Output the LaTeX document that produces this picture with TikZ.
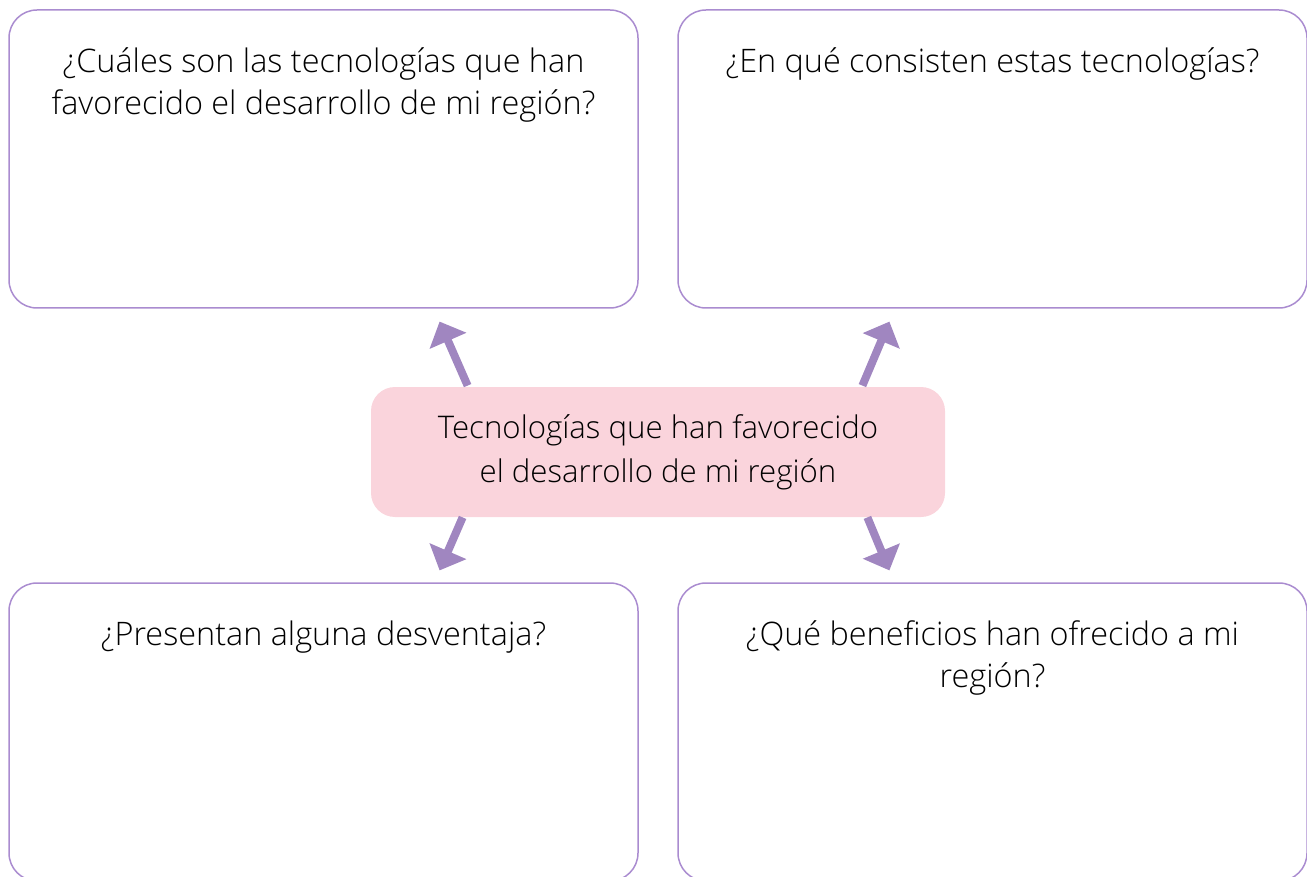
\documentclass[tikz,border=0pt]{standalone}
\usepackage{fontspec}
\setmainfont{Open Sans}[UprightFont=* Light]
\usetikzlibrary{arrows.meta,positioning}
\definecolor{lila}{HTML}{AA8CD0}
\definecolor{flecha}{HTML}{A086C0}
\definecolor{rosa}{HTML}{FAD4DC}

\begin{document}
\begin{tikzpicture}[x=0.5pt,y=-0.5pt,
    every node/.style={font=\fontsize{16.2}{21}\selectfont},
    caja/.style={draw=lila,line width=.75pt,rounded corners=14pt,minimum width=314.5pt,minimum height=149pt,inner sep=0pt},
    pregunta/.style={anchor=north,align=center,inner sep=0pt},
    centro/.style={fill=rosa,rounded corners=12pt,minimum width=287pt,minimum height=65pt,align=center,inner sep=0pt,font=\fontsize{15.6}{22}\selectfont},
    flechita/.style={-{Triangle[length=10.5pt,width=19.5pt]},line width=4pt,flecha}]
    \useasboundingbox (0,0) rectangle (1307,877);
    \clip (0,0) rectangle (1307,877);
    \node[caja] (tl) at (323.5,159) {};
    \node[caja] (tr) at (992.5,159) {};
    \node[caja] (bl) at (323.5,732) {};
    \node[caja] (br) at (992.5,732) {};
    \node[pregunta,below=19pt of tl.north] (qtl) {¿Cuáles son las tecnologías que han\\favorecido el desarrollo de mi región?};
    \node[pregunta,below=19pt of tr.north] (qtr) {¿En qué consisten estas tecnologías?};
    \node[pregunta,below=19pt of bl.north] (qbl) {¿Presentan alguna desventaja?};
    \node[pregunta,below=19pt of br.north] (qbr) {¿Qué beneficios han ofrecido a mi\\región?};
    \node[centro] (c) at (658,452) {Tecnologías que han favorecido\\el desarrollo de mi región};
    \draw[flechita] (c.north west) ++(97,-1) -- ++(-28,-64);
    \draw[flechita] (c.north east) ++(-83,-1) -- ++(27,-64);
    \draw[flechita] (c.south west) ++(92,0) -- ++(-23,53);
    \draw[flechita] (c.south east) ++(-78,0) -- ++(22,53);
\end{tikzpicture}
\end{document}
